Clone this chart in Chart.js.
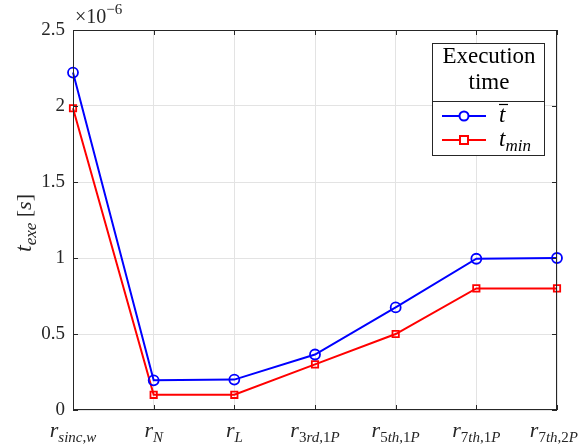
<!DOCTYPE html>
<html>
<head>
<meta charset="utf-8">
<script src="https://cdn.jsdelivr.net/npm/chart.js@4"></script>
<style>
  html, body { margin: 0; padding: 0; background: #fff; }
  #wrap { width: 581px; height: 448px; }
</style>
</head>
<body>
<div id="wrap"><canvas id="chart"></canvas></div>
<script>
// categories: base letter r + subscript
const categories = ["sinc,w", "N", "L", "3rd,1P", "5th,1P", "7th,1P", "7th,2P"];
const tMean = [2.22, 0.195, 0.2, 0.365, 0.675, 0.995, 1.0];
const tMin = [1.985, 0.1, 0.1, 0.3, 0.5, 0.8, 0.8];
const yTicks = [0, 0.5, 1, 1.5, 2, 2.5];

const SERIF = '"Liberation Serif", "DejaVu Serif", serif';

// split a subscript into runs: letters italic, digits/commas upright
function runs(str, size) {
  const out = [];
  for (const ch of str) {
    const it = /[A-Za-z]/.test(ch);
    const f = (it ? "italic " : "") + size + "px " + SERIF;
    if (out.length && out[out.length - 1][1] === f) out[out.length - 1][0] += ch;
    else out.push([ch, f]);
  }
  return out;
}

function drawLabel(ctx, x, y, sub) {
  const parts = [["r", "italic 22px " + SERIF, 0]].concat(runs(sub, 15).map(r => [r[0], r[1], 5]));
  let w = 0;
  parts.forEach(p => { ctx.font = p[1]; w += ctx.measureText(p[0]).width; });
  let cx = Math.min(x - w / 2, 578 - w);
  ctx.textAlign = "left";
  ctx.textBaseline = "alphabetic";
  parts.forEach(p => { ctx.font = p[1]; ctx.fillText(p[0], cx, y + p[2]); cx += ctx.measureText(p[0]).width; });
}

const decor = {
  id: "decor",
  afterDraw(chart) {
    const ctx = chart.ctx;
    const a = chart.chartArea;
    const xs = chart.scales.x, ys = chart.scales.y;
    ctx.save();
    // axes box
    ctx.strokeStyle = "#262626";
    ctx.lineWidth = 1;
    ctx.strokeRect(a.left + 0.5, a.top + 0.5, a.right - a.left - 1, a.bottom - a.top - 1);
    // inward ticks
    ctx.beginPath();
    categories.forEach((c, i) => {
      const px = Math.round(xs.getPixelForValue(i)) + 0.5;
      ctx.moveTo(px, a.bottom); ctx.lineTo(px, a.bottom - 5);
      ctx.moveTo(px, a.top); ctx.lineTo(px, a.top + 5);
    });
    yTicks.forEach(v => {
      const py = Math.round(ys.getPixelForValue(v)) + 0.5;
      ctx.moveTo(a.left, py); ctx.lineTo(a.left + 5, py);
      ctx.moveTo(a.right, py); ctx.lineTo(a.right - 5, py);
    });
    ctx.stroke();

    ctx.fillStyle = "#262626";
    // x labels
    categories.forEach((c, i) => {
      drawLabel(ctx, xs.getPixelForValue(i), a.bottom + 27, c);
    });

    // exponent label
    ctx.textAlign = "left";
    ctx.textBaseline = "alphabetic";
    ctx.font = "20px " + SERIF;
    ctx.fillText("\u00d710", a.left + 2, 23);
    const w10 = ctx.measureText("\u00d710").width;
    ctx.font = "15px " + SERIF;
    ctx.fillText("\u22126", a.left + 2 + w10, 14);

    // y title
    ctx.save();
    ctx.translate(31, (a.top + a.bottom) / 2 + 3);
    ctx.rotate(-Math.PI / 2);
    const parts = [
      ["t", "italic 24px " + SERIF, 0],
      ["exe", "italic 17px " + SERIF, 5],
      [" [", "22px " + SERIF, 0],
      ["s", "italic 22px " + SERIF, 0],
      ["]", "22px " + SERIF, 0]
    ];
    let tw = 0;
    parts.forEach(p => { ctx.font = p[1]; tw += ctx.measureText(p[0]).width; });
    let cx = -tw / 2;
    ctx.textAlign = "left";
    parts.forEach(p => { ctx.font = p[1]; ctx.fillText(p[0], cx, p[2]); cx += ctx.measureText(p[0]).width; });
    ctx.restore();

    // legend box
    const lx = 432, ly = 43, lw = 112, lh = 112;
    ctx.fillStyle = "#fff";
    ctx.fillRect(lx, ly, lw, lh);
    ctx.strokeStyle = "#262626";
    ctx.lineWidth = 1;
    ctx.strokeRect(lx + 0.5, ly + 0.5, lw, lh);
    ctx.beginPath();
    ctx.moveTo(lx, ly + 58.5); ctx.lineTo(lx + lw, ly + 58.5);
    ctx.stroke();
    ctx.fillStyle = "#000";
    ctx.textAlign = "center";
    ctx.font = "23px " + SERIF;
    ctx.fillText("Execution", lx + lw / 2 + 1, ly + 20);
    ctx.fillText("time", lx + lw / 2 + 1, ly + 46);
    const ds = chart.data.datasets;
    [[116, 0], [140, 1]].forEach(([yy, k]) => {
      const d = ds[k];
      ctx.strokeStyle = d.borderColor;
      ctx.lineWidth = 2;
      ctx.beginPath();
      ctx.moveTo(442, yy); ctx.lineTo(486, yy);
      ctx.stroke();
      ctx.fillStyle = "#fff";
      if (k === 0) {
        ctx.beginPath(); ctx.arc(464, yy, 4.5, 0, Math.PI * 2); ctx.fill(); ctx.stroke();
      } else {
        ctx.fillRect(460, yy - 4, 8, 8); ctx.strokeRect(460, yy - 4, 8, 8);
      }
    });
    ctx.fillStyle = "#000";
    ctx.textAlign = "left";
    ctx.font = "italic 23px " + SERIF;
    ctx.fillText("t", 499, 122);
    ctx.lineWidth = 1.2;
    ctx.strokeStyle = "#000";
    ctx.beginPath(); ctx.moveTo(499, 104.5); ctx.lineTo(508, 104.5); ctx.stroke();
    ctx.font = "italic 23px " + SERIF;
    ctx.fillText("t", 499, 146);
    const wt = ctx.measureText("t").width;
    ctx.font = "italic 17px " + SERIF;
    ctx.fillText("min", 499 + wt, 151);
    ctx.restore();
  }
};

new Chart(document.getElementById("chart"), {
  type: "line",
  data: {
    labels: categories,
    datasets: [
      {
        label: "t_mean",
        data: tMean,
        borderColor: "#0000ff",
        borderWidth: 2,
        pointStyle: "circle",
        pointRadius: 5,
        pointBorderWidth: 1.8,
        pointBackgroundColor: "rgba(0,0,0,0)",
        tension: 0
      },
      {
        label: "t_min",
        data: tMin,
        borderColor: "#ff0000",
        borderWidth: 2,
        pointStyle: "rect",
        pointRadius: 4.5,
        pointBorderWidth: 1.8,
        pointBackgroundColor: "rgba(0,0,0,0)",
        tension: 0
      }
    ]
  },
  options: {
    responsive: true,
    maintainAspectRatio: false,
    animation: false,
    events: [],
    layout: { padding: { left: 0, right: 24, top: 30, bottom: 0 } },
    plugins: { legend: { display: false }, tooltip: { enabled: false } },
    scales: {
      x: {
        type: "category",
        offset: false,
        grid: { color: "#e3e3e3", drawTicks: false },
        border: { display: false },
        ticks: { display: false },
        afterFit: s => { s.height = 38; }
      },
      y: {
        min: 0, max: 2.5,
        afterBuildTicks: s => { s.ticks = yTicks.map(v => ({ value: v })); },
        grid: { color: "#e3e3e3", drawTicks: false },
        border: { display: false },
        ticks: {
          color: "#262626",
          padding: 8,
          font: { family: SERIF, size: 19 },
          callback: v => String(v)
        },
        afterFit: s => { s.width = 73; }
      }
    }
  },
  plugins: [decor]
});
</script>
</body>
</html>
